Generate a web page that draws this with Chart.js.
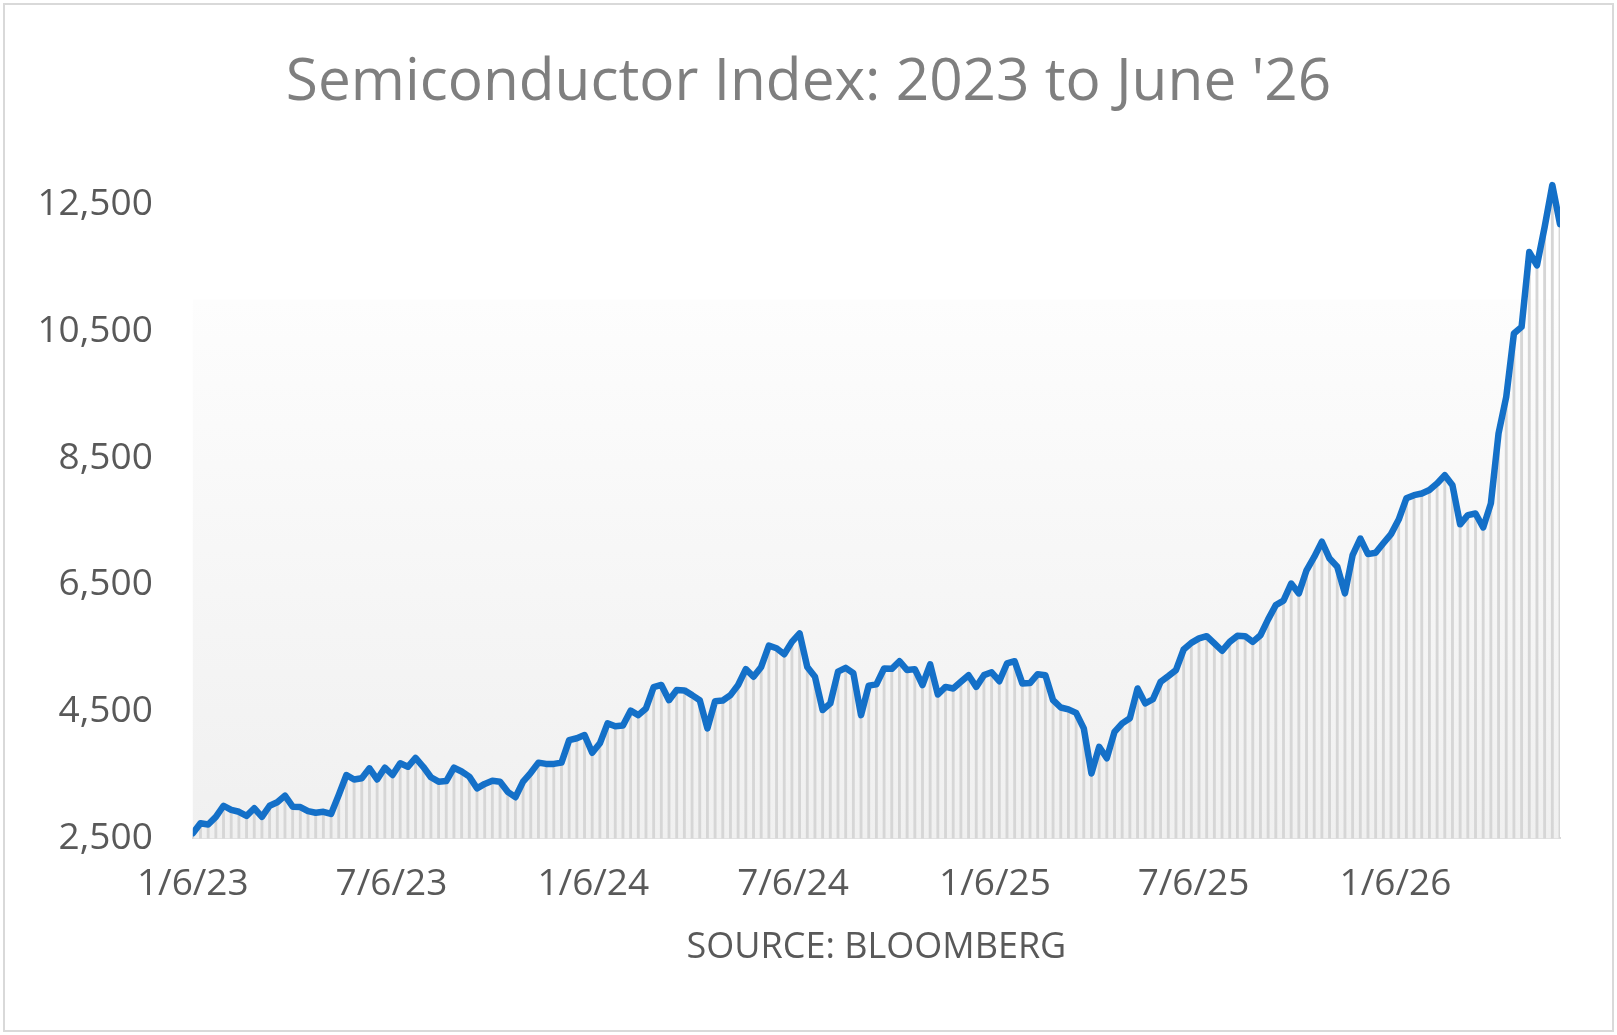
<!DOCTYPE html>
<html>
<head>
<meta charset="utf-8">
<script src="https://cdn.jsdelivr.net/npm/chart.js@4.4.1/dist/chart.umd.min.js"></script>
<style>
  html, body { margin: 0; padding: 0; background: #ffffff; }
  #wrap { position: relative; width: 1617px; height: 1035px; }
  #frame { position: absolute; left: 3px; top: 3px; width: 1607px; height: 1025px; border: 2px solid #d9d9d9; pointer-events: none; }
  canvas { display: block; }
</style>
</head>
<body>
<div id="wrap">
  <canvas id="c" width="1617" height="1035"></canvas>
  <div id="frame"></div>
</div>
<script>
// ---- data ----
const chartTitle = "Semiconductor Index: 2023 to June '26";
const sourceLabel = 'SOURCE: BLOOMBERG';
const firstWeek = '1/6/23';           // first weekly observation (Friday)
const xTickLabels = ['1/6/23', '7/6/23', '1/6/24', '7/6/24', '1/6/25', '7/6/25', '1/6/26'];
const yTickValues = [2500, 4500, 6500, 8500, 10500, 12500];
const indexValues = [
  2580, 2740, 2720, 2840, 3015, 2950, 2920, 2855, 2975, 2840,
  3015, 3070, 3175, 3000, 2995, 2930, 2905, 2920, 2885, 3185,
  3500, 3430, 3450, 3605, 3430, 3615, 3500, 3685, 3630, 3770,
  3630, 3465, 3395, 3405, 3615, 3555, 3475, 3290, 3360, 3410,
  3395, 3235, 3150, 3395, 3535, 3695, 3675, 3675, 3695, 4050,
  4080, 4130, 3850, 4000, 4315, 4270, 4280, 4515, 4445, 4550,
  4885, 4920, 4680, 4840, 4835, 4760, 4680, 4235, 4665, 4675,
  4760, 4920, 5170, 5050, 5205, 5540, 5500, 5405, 5600, 5735,
  5205, 5050, 4525, 4630, 5130, 5190, 5105, 4445, 4910, 4930,
  5180, 5175, 5295, 5155, 5170, 4920, 5245, 4770, 4890, 4865,
  4970, 5075, 4890, 5075, 5120, 4980, 5260, 5295, 4945, 4950,
  5090, 5075, 4680, 4565, 4535, 4480, 4235, 3525, 3945, 3765,
  4180, 4315, 4395, 4865, 4630, 4695, 4970, 5060, 5155, 5480,
  5585, 5655, 5690, 5575, 5460, 5600, 5695, 5690, 5600, 5705,
  5955, 6180, 6250, 6520, 6365, 6730, 6940, 7180, 6915, 6785,
  6365, 6970, 7230, 6985, 7005, 7155, 7300, 7530, 7865, 7915,
  7940, 7995, 8100, 8230, 8070, 7455, 7600, 7625, 7405, 7785,
  8890, 9465, 10465, 10570, 11750, 11540, 12145, 12805, 12190
];

// ---- helpers ----
const DAY = 86400000;
function parseMDY(s) {
  const [m, d, y] = s.split('/').map(Number);
  return Date.UTC(2000 + y, m - 1, d);
}
function fmtMDY(t) {
  const dt = new Date(t);
  return (dt.getUTCMonth() + 1) + '/' + dt.getUTCDate() + '/' + String(dt.getUTCFullYear()).slice(2);
}
const t0 = parseMDY(firstWeek);
const weekDates = indexValues.map((_, i) => fmtMDY(t0 + i * 7 * DAY));
const dayOf = s => Math.round((parseMDY(s) - t0) / DAY);
const points = indexValues.map((v, i) => ({ x: dayOf(weekDates[i]), y: v }));
const xTickDays = xTickLabels.map(dayOf);

const FONT = "'Open Sans', 'DejaVu Sans', sans-serif";

const bgPlugin = {
  id: 'plotBg',
  beforeDatasetsDraw(chart) {
    const { ctx, chartArea, scales } = chart;
    const top = scales.y.getPixelForValue(11000);
    const g = ctx.createLinearGradient(0, top, 0, chartArea.bottom);
    g.addColorStop(0, 'rgba(253,253,253,1)');
    g.addColorStop(1, 'rgba(240,240,240,1)');
    ctx.save();
    ctx.fillStyle = g;
    ctx.fillRect(chartArea.left, top, chartArea.right - chartArea.left, chartArea.bottom - top);
    ctx.restore();
  }
};

new Chart(document.getElementById('c'), {
  data: {
    datasets: [
      {
        type: 'line',
        data: points,
        borderColor: '#1470c8',
        borderWidth: 6.5,
        borderJoinStyle: 'round',
        borderCapStyle: 'round',
        pointRadius: 0,
        tension: 0,
        fill: false,
        order: 0
      },
      {
        type: 'bar',
        data: points,
        backgroundColor: '#d6d6d6',
        borderWidth: 0,
        barThickness: 2.2,
        order: 1
      }
    ]
  },
  options: {
    responsive: false,
    animation: false,
    events: [],
    layout: { padding: { left: 0, right: 0, top: 0, bottom: 0 } },
    plugins: {
      legend: { display: false },
      tooltip: { enabled: false },
      title: {
        display: true,
        text: chartTitle,
        color: '#7f7f7f',
        font: { family: FONT, size: 58.5, weight: 'normal' },
        padding: { top: 48.5, bottom: 54.1 }
      }
    },
    scales: {
      x: {
        type: 'linear',
        min: 0,
        max: points[points.length - 1].x,
        offset: false,
        grid: { display: false, drawTicks: false },
        border: { display: true, color: '#d9d9d9', width: 2 },
        afterBuildTicks: axis => { axis.ticks = xTickDays.map(v => ({ value: v })); },
        afterFit: scale => { scale.height = 196.6; },
        ticks: {
          autoSkip: false,
          maxRotation: 0,
          padding: 24,
          color: '#595959',
          font: { family: FONT, size: 37 },
          callback: v => { const k = xTickDays.indexOf(v); return k >= 0 ? xTickLabels[k] : ''; }
        },
        title: {
          display: true,
          text: sourceLabel,
          color: '#595959',
          font: { family: FONT, size: 36 },
          padding: { top: 0, bottom: 65.9 }
        }
      },
      y: {
        type: 'linear',
        position: 'left',
        min: 2500,
        max: 13000,
        grid: { display: false, drawTicks: false },
        border: { display: false },
        afterBuildTicks: axis => { axis.ticks = yTickValues.map(v => ({ value: v })); },
        afterFit: scale => { scale.width = 192.8; },
        ticks: {
          padding: 40,
          color: '#595959',
          font: { family: FONT, size: 37 },
          callback: v => v.toLocaleString('en-US')
        }
      },
      yRight: {
        type: 'linear',
        position: 'right',
        display: true,
        grid: { display: false, drawTicks: false },
        border: { display: false },
        ticks: { display: false },
        afterFit: scale => { scale.width = 57; }
      }
    }
  },
  plugins: [bgPlugin]
});
</script>
</body>
</html>
